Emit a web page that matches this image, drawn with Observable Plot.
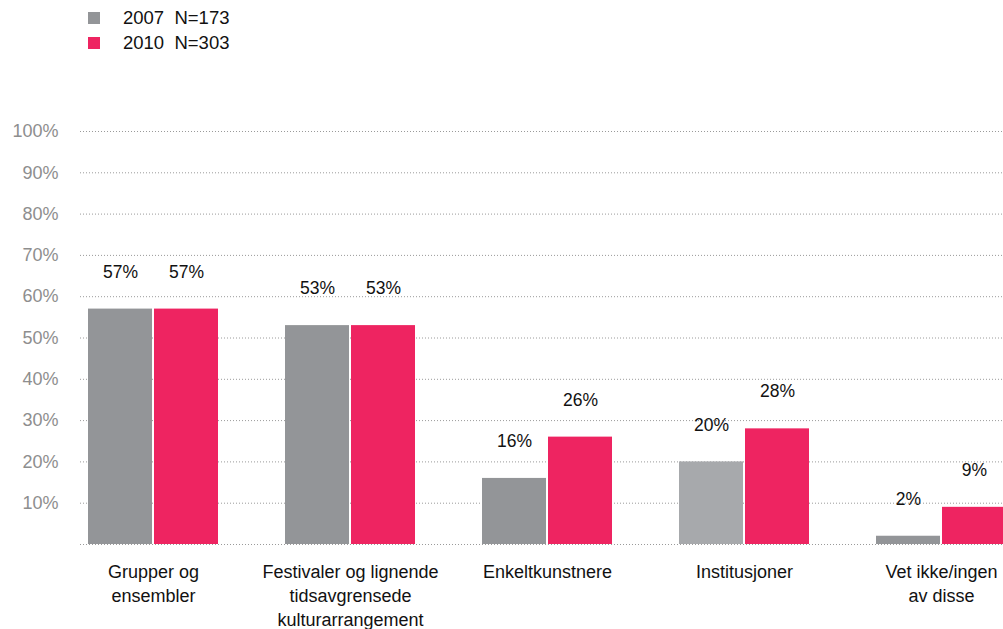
<!DOCTYPE html>
<html>
<head>
<meta charset="utf-8">
<script src="https://cdn.jsdelivr.net/npm/d3@7"></script>
<script src="https://cdn.jsdelivr.net/npm/@observablehq/plot@0.6"></script>
<style>
  html, body { margin: 0; padding: 0; background: #fff; }
  body { width: 1003px; height: 629px; position: relative; overflow: hidden; font-family: "Liberation Sans", Arial, Helvetica, sans-serif; }
  #legend { position: absolute; left: 88px; top: 5px; font-size: 18.5px; color: #111; }
  .row { display: flex; align-items: center; height: 25px; }
  .sw { width: 12px; height: 12px; margin-right: 23px; }
  #chart { position: absolute; left: 0; top: 0; }
</style>
</head>
<body>
<div id="chart"></div>
<div id="legend"></div>
<script>
const categories = ["Grupper og\nensembler", "Festivaler og lignende\ntidsavgrensede\nkulturarrangement", "Enkeltkunstnere", "Institusjoner", "Vet ikke/ingen\nav disse"];
const years = ["2007", "2010"];
const sampleSizes = ["N=173", "N=303"];
const values2007 = [57, 53, 16, 20, 2];
const values2010 = [57, 53, 26, 28, 9];
const yTicks = [10, 20, 30, 40, 50, 60, 70, 80, 90, 100];

const GRAY = "#939598", GRAY_LIGHT = "#a7a9ac", PINK = "#ee2461";

const rows = [];
categories.forEach((c, i) => {
  rows.push({category: c, year: "2007", value: values2007[i]});
  rows.push({category: c, year: "2010", value: values2010[i]});
});
const r2007 = rows.filter(d => d.year === "2007");
const r2010 = rows.filter(d => d.year === "2010");

const font = "'Liberation Sans', Arial, Helvetica, sans-serif";

const chart = Plot.plot({
  width: 1003,
  height: 629,
  marginTop: 131,
  marginBottom: 85,
  marginLeft: 80,
  marginRight: 0,
  style: {fontFamily: font, background: "transparent"},
  x: {domain: categories, range: [87.5, 1006.5], paddingInner: 0.341, paddingOuter: 0, axis: null},
  y: {domain: [0, 100], axis: null, label: null},
  color: {type: "identity"},
  marks: [
    Plot.ruleY([0, ...yTicks], {stroke: "#9a9a9a", strokeDasharray: "1,2", strokeWidth: 1}),
    Plot.axisY({ticks: yTicks, tickFormat: d => d + "%", tickSize: 0, tickPadding: 22, fontSize: 18, fill: "#8e8e8e", label: null}),
    Plot.barY(r2007, {x: "category", y: "value", fill: d => d.category === "Institusjoner" ? GRAY_LIGHT : GRAY, insetLeft: 0, insetRight: 66}),
    Plot.barY(r2010, {x: "category", y: "value", fill: PINK, insetLeft: 66, insetRight: 0}),
    Plot.text(r2007, {x: "category", y: "value", text: d => d.value + "%", dx: -33, dy: -37, fontSize: 17.5, fill: "#111"}),
    Plot.text(r2010, {x: "category", y: "value", text: d => d.value + "%", dx: 33, dy: -37, fontSize: 17.5, fill: "#111"}),
    Plot.text(categories, {x: d => d, frameAnchor: "bottom", lineAnchor: "top", dy: 17, lineHeight: 1.33, fontSize: 18, fill: "#111"})
  ]
});
document.getElementById("chart").appendChild(chart);

const legend = document.getElementById("legend");
years.forEach((y, i) => {
  const row = document.createElement("div");
  row.className = "row";
  const sw = document.createElement("div");
  sw.className = "sw";
  sw.style.background = i === 0 ? GRAY : PINK;
  const t = document.createElement("span");
  t.textContent = y + "\u00a0\u00a0" + sampleSizes[i];
  row.appendChild(sw);
  row.appendChild(t);
  legend.appendChild(row);
});
</script>
</body>
</html>
